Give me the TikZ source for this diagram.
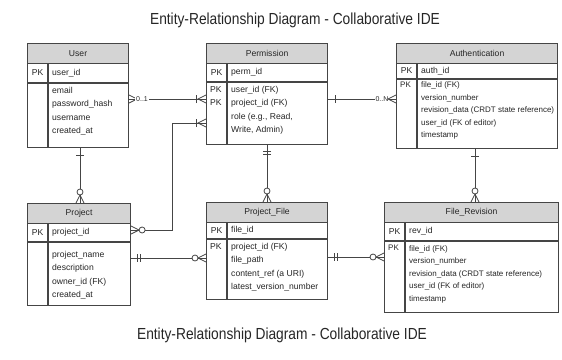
\documentclass[tikz,border=0pt]{standalone}
\usepackage{fontspec}
\setmainfont{Liberation Sans}
\newfontfamily\ttlfont[FakeStretch=0.86]{Liberation Sans}
\usetikzlibrary{positioning}

\definecolor{hdrgray}{HTML}{D4D4D4}
\definecolor{linegray}{HTML}{454545}
\definecolor{txtgray}{HTML}{262626}

\tikzset{
  rel/.style={draw=linegray,line width=0.8pt},
  crow/.pic={\draw[rel] (0,-4)--(8,0)--(0,4);},
  zcrow/.pic={\draw[rel] (0,-4)--(8,0)--(0,4); \draw[rel,fill=white] (11,0) circle (3);},
  barcrow/.pic={\draw[rel] (0,-4)--(8,0)--(0,4); \draw[rel] (10,-4)--(10,4);},
  onebar/.pic={\draw[rel] (7,-4)--(7,4);},
  twobar/.pic={\draw[rel] (6,-4)--(6,4) (9,-4)--(9,4);}
}

\begin{document}
\begin{tikzpicture}[x=1pt,y=-1pt]
\tikzstyle{every node}=[font=\fontsize{8.6}{13.5}\selectfont,text=txtgray,inner sep=0pt]
\tikzstyle{ent}=[draw=linegray,line width=1.1pt,fill=white,anchor=north west]
\tikzstyle{hdr}=[draw=linegray,line width=1.1pt,fill=hdrgray,anchor=north west,minimum height=20]
\tikzstyle{fld}=[anchor=north west,align=left]
\tikzstyle{sep}=[draw=linegray,line width=1.1pt]
\tikzstyle{small}=[font=\fontsize{8}{12.5}\selectfont]
\tikzstyle{card}=[fill=white,inner sep=1pt,font=\fontsize{7}{8}\selectfont]
\useasboundingbox (0,0) rectangle (562,359);

% titles
\node[font=\ttlfont\fontsize{16}{18}\selectfont] (title) at (295,20) {Entity-Relationship Diagram - Collaborative IDE};
\node[font=\ttlfont\fontsize{16}{18}\selectfont] (title2) at (282,335) {Entity-Relationship Diagram - Collaborative IDE};

% User
\node[ent,minimum width=101,minimum height=104] (user) at (27,43) {};
\node[hdr,minimum width=101] (userH) at (27,43) {User};
\draw[sep] (27,83)--(128,83) (48,63)--(48,147);
\node at (37.5,73) {PK};
\node[anchor=west] at (52,73) {user\_id};
\node[fld] (userF) at (52,87) {email\\password\_hash\\username\\created\_at};

% Permission
\node[ent,minimum width=121,minimum height=101] (perm) at (206,43) {};
\node[hdr,minimum width=121] (permH) at (206,43) {Permission};
\draw[sep] (206,82)--(327,82) (227,63)--(227,144);
\node at (216.5,72.5) {PK};
\node[anchor=west] at (231,72.5) {perm\_id};
\node[fld] at (210,86) {PK\\PK};
\node[fld] (permF) at (231,86) {user\_id (FK)\\project\_id (FK)\\role (e.g., Read,\\Write, Admin)};

% Authentication
\node[ent,minimum width=161,minimum height=105] (auth) at (396,43) {};
\node[hdr,minimum width=161] (authH) at (396,43) {Authentication};
\draw[sep] (396,79)--(557,79) (417,63)--(417,148);
\node at (406.5,71) {PK};
\node[anchor=west] at (421,71) {auth\_id};
\node[fld,small] at (400,82) {PK};
\node[fld,small] (authF) at (421,82) {file\_id (FK)\\version\_number\\revision\_data (CRDT state reference)\\user\_id (FK of editor)\\timestamp};

% Project
\node[ent,minimum width=103,minimum height=102] (proj) at (27,203) {};
\node[hdr,minimum width=103] (projH) at (27,203) {Project};
\draw[sep] (27,242)--(130,242) (48,223)--(48,305);
\node at (37.5,232.5) {PK};
\node[anchor=west] at (52,232.5) {project\_id};
\node[fld] (projF) at (52,251) {project\_name\\description\\owner\_id (FK)\\created\_at};

% Project_File
\node[ent,minimum width=121,minimum height=97] (pfile) at (206,202) {};
\node[hdr,minimum width=121] (pfileH) at (206,202) {Project\_File};
\draw[sep] (206,239)--(327,239) (227,222)--(227,299);
\node at (216.5,230.5) {PK};
\node[anchor=west] at (231,230.5) {file\_id};
\node[fld] at (210,243) {PK};
\node[fld] (pfileF) at (231,243) {project\_id (FK)\\file\_path\\content\_ref (a URI)\\latest\_version\_number};

% File_Revision
\node[ent,minimum width=174,minimum height=110] (frev) at (384,202) {};
\node[hdr,minimum width=174] (frevH) at (384,202) {File\_Revision};
\draw[sep] (384,241)--(558,241) (405,222)--(405,312);
\node at (394.5,231.5) {PK};
\node[anchor=west] at (409,231.5) {rev\_id};
\node[fld,small] at (388,245) {PK};
\node[fld,small] (frevF) at (409,245) {file\_id (FK)\\version\_number\\revision\_data (CRDT state reference)\\user\_id (FK of editor)\\timestamp};

% relationships
\draw[rel] (user.east |- 0,99) -- (perm.west |- 0,99);
\pic at (user.east |- 0,99) {crow};
\node[card] (c01) at (142,99) {0..1};
\pic[rotate=180] at (perm.west |- 0,99) {barcrow};

\draw[rel] (perm.east |- 0,99) -- (auth.west |- 0,99);
\pic at (perm.east |- 0,99) {onebar};
\node[card] (c0n) at (382,99) {0..N};
\pic[rotate=180] at (auth.west |- 0,99) {crow};

\draw[rel] (perm.west |- 0,123) -- (172,123) -- (172,230) -- (proj.east |- 0,230);
\pic[rotate=180] at (perm.west |- 0,123) {barcrow};
\pic at (proj.east |- 0,230) {zcrow};

\draw[rel] (user.south -| 80,0) -- (proj.north -| 80,0);
\pic[rotate=-90] at (user.south -| 80,0) {onebar};
\pic[rotate=90] at (proj.north -| 80,0) {zcrow};

\draw[rel] (perm.south -| 267,0) -- (pfile.north -| 267,0);
\pic[rotate=-90] at (perm.south -| 267,0) {twobar};
\pic[rotate=90] at (pfile.north -| 267,0) {zcrow};

\draw[rel] (auth.south -| 475,0) -- (frev.north -| 475,0);
\pic[rotate=-90] at (auth.south -| 475,0) {onebar};
\pic[rotate=90] at (frev.north -| 475,0) {zcrow};

\draw[rel] (proj.east |- 0,258) -- (pfile.west |- 0,258);
\pic at (proj.east |- 0,258) {twobar};
\pic[rotate=180] at (pfile.west |- 0,258) {zcrow};

\draw[rel] (pfile.east |- 0,257) -- (frev.west |- 0,257);
\pic at (pfile.east |- 0,257) {twobar};
\pic[rotate=180] at (frev.west |- 0,257) {zcrow};
\end{tikzpicture}
\end{document}
